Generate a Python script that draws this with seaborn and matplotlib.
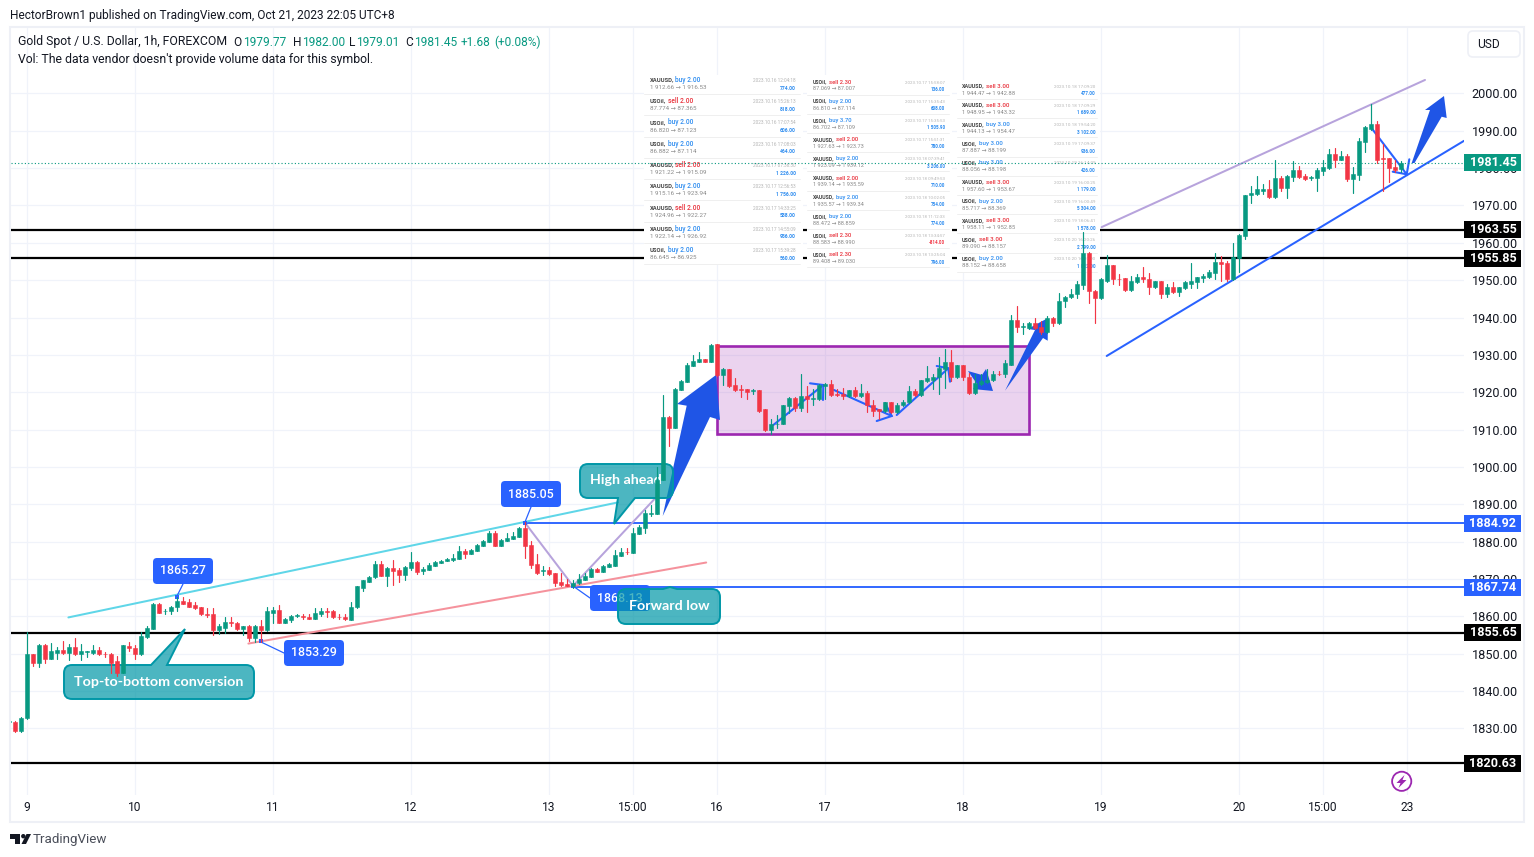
import numpy as np
import pandas as pd
import matplotlib
matplotlib.use("Agg")
import matplotlib.pyplot as plt
from matplotlib.patches import Rectangle, Polygon, PathPatch, Circle, FancyBboxPatch
from matplotlib.path import Path
from matplotlib.transforms import Affine2D, blended_transform_factory
import seaborn as sns

first_bar = -3
opens = [
1831.8,1831.8,1829.2,1832.7,1849.8,1847.6,1852.4,1848.7,1850.3,1851.1,
1850.3,1851.9,1849.8,1850.4,1850.3,1851.1,1850.0,1850.0,1847.9,1844.9,
1852.1,1851.6,1849.8,1854.4,1856.7,1863.4,1861.3,1861.3,1862.4,1864.0,
1863.7,1862.9,1862.4,1860.7,1860.7,1856.2,1857.0,1858.6,1858.3,1856.5,
1857.3,1854.3,1857.5,1856.2,1861.0,1861.8,1858.3,1859.1,1860.2,1860.2,
1859.9,1859.4,1860.7,1861.3,1861.5,1859.9,1859.7,1859.1,1862.4,1867.7,
1869.3,1870.4,1874.0,1870.8,1873.0,1872.4,1871.1,1873.0,1874.6,1872.2,
1872.4,1873.5,1874.3,1874.8,1875.1,1875.4,1877.5,1876.7,1877.5,1878.8,
1879.9,1882.4,1878.8,1880.2,1880.7,1881.3,1883.7,1879.1,1874.0,1872.2,
1872.4,1871.6,1869.2,1868.7,1868.1,1868.8,1869.7,1870.5,1872.7,1871.9,
1873.2,1873.5,1876.2,1877.2,1877.0,1882.1,1883.7,1887.4,1887.4,1896.5,
1913.4,1910.4,1920.6,1922.8,1927.0,1928.1,1928.9,1928.1,1932.8,1924.5,
1926.1,1921.8,1920.8,1920.8,1920.2,1920.5,1915.4,1910.0,1911.4,1911.6,
1916.2,1918.4,1915.7,1918.9,1918.3,1918.1,1921.6,1922.1,1919.4,1919.4,
1918.9,1920.5,1918.9,1919.7,1916.7,1915.4,1914.9,1917.3,1914.6,1916.5,
1917.3,1920.2,1919.2,1922.9,1923.4,1924.0,1926.1,1928.0,1924.0,1927.2,
1924.2,1919.7,1922.1,1922.6,1923.2,1925.0,1924.8,1927.4,1939.2,1937.4,
1937.1,1938.4,1937.4,1936.0,1940.0,1938.4,1944.3,1945.4,1946.2,1948.8,
1957.4,1947.2,1945.1,1949.7,1954.0,1950.4,1950.5,1947.3,1949.4,1950.8,
1950.2,1948.1,1949.7,1946.2,1948.1,1946.7,1947.8,1949.1,1949.4,1950.5,
1950.8,1951.8,1954.8,1954.5,1950.2,1955.8,1961.7,1972.7,1973.0,1974.0,
1974.3,1972.2,1977.3,1974.6,1977.5,1979.4,1977.8,1977.3,1977.3,1979.1,
1979.9,1983.7,1982.3,1983.2,1977.0,1978.1,1986.9,1990.6,1991.7,1982.6,
1982.6,1980.2,1979.77]
closes = [
1831.9,1829.2,1832.9,1849.8,1847.6,1852.4,1848.7,1850.6,1851.1,1850.3,
1851.9,1849.8,1850.6,1850.7,1851.1,1849.8,1849.9,1847.6,1844.9,1852.2,
1851.4,1849.8,1854.6,1857.0,1863.4,1861.0,1861.5,1862.6,1864.0,1863.4,
1862.6,1862.1,1860.5,1860.4,1856.2,1857.3,1858.6,1858.1,1856.5,1857.3,
1854.3,1857.5,1856.2,1861.3,1861.8,1858.3,1859.4,1860.2,1860.3,1859.7,
1859.4,1861.0,1861.5,1861.2,1859.7,1859.7,1859.4,1862.6,1868.0,1869.6,
1870.4,1874.0,1870.8,1873.0,1872.2,1871.1,1873.2,1874.6,1871.9,1872.7,
1873.8,1874.6,1874.8,1875.4,1875.6,1877.5,1876.7,1877.8,1879.1,1880.2,
1882.4,1878.8,1880.4,1881.0,1881.5,1883.7,1878.8,1873.8,1871.6,1872.4,
1871.3,1868.9,1868.4,1868.2,1868.9,1870.0,1870.8,1872.7,1871.9,1873.5,
1874.0,1876.4,1877.2,1877.1,1882.3,1883.9,1887.7,1887.7,1896.5,1913.4,
1910.4,1920.9,1923.0,1927.3,1928.4,1928.9,1928.1,1932.7,1924.5,1926.1,
1921.6,1920.5,1920.7,1920.0,1920.5,1915.1,1910.0,1911.6,1911.6,1916.5,
1918.4,1915.7,1918.9,1918.1,1918.4,1921.8,1922.1,1919.2,1919.2,1919.0,
1920.5,1918.9,1919.7,1916.5,1915.1,1914.9,1917.3,1914.6,1916.7,1917.5,
1920.2,1919.2,1923.2,1923.7,1924.2,1926.4,1928.0,1924.0,1927.2,1924.0,
1919.7,1922.4,1922.9,1923.4,1925.0,1924.9,1927.7,1939.2,1937.4,1937.6,
1938.4,1937.1,1936.0,1940.0,1938.4,1944.5,1945.6,1946.4,1949.1,1957.4,
1947.0,1945.1,1950.2,1954.0,1950.2,1950.3,1947.3,1949.7,1950.8,1950.2,
1948.1,1949.7,1946.2,1948.1,1946.7,1948.1,1949.4,1949.7,1950.8,1951.0,
1952.1,1954.8,1954.2,1950.2,1956.1,1962.0,1972.7,1973.2,1974.3,1974.3,
1972.2,1977.3,1974.6,1977.8,1979.4,1977.5,1977.0,1977.5,1979.4,1980.2,
1983.7,1982.3,1983.2,1977.0,1978.3,1987.2,1990.9,1991.7,1982.3,1982.4,
1979.9,1979.4,1981.45]
highs = [
1832.0,1832.0,1833.0,1855.7,1849.9,1852.5,1852.6,1852.8,1851.9,1853.5,
1852.6,1854.3,1852.6,1850.8,1852.4,1851.9,1850.4,1850.1,1849.5,1852.4,
1853.2,1852.2,1855.7,1857.5,1863.5,1863.5,1862.0,1862.7,1865.3,1865.1,
1864.5,1863.7,1862.5,1862.1,1862.1,1858.0,1859.7,1859.7,1858.4,1857.5,
1857.8,1857.6,1858.9,1862.4,1862.4,1862.9,1859.5,1860.3,1860.7,1860.5,
1860.5,1862.1,1862.1,1862.1,1861.6,1860.7,1860.5,1863.7,1868.2,1869.8,
1870.9,1874.7,1874.7,1873.1,1875.1,1872.9,1873.5,1877.2,1874.7,1873.3,
1874.2,1874.7,1875.1,1875.5,1876.7,1878.8,1878.0,1878.0,1879.4,1880.4,
1882.9,1882.8,1880.6,1882.2,1882.7,1884.0,1885.3,1880.1,1876.7,1873.5,
1873.3,1871.7,1871.5,1870.1,1869.6,1871.3,1871.5,1872.9,1873.0,1873.8,
1874.4,1877.8,1878.3,1878.3,1883.6,1884.5,1888.5,1889.8,1900.1,1919.3,
1913.5,1921.1,1923.3,1927.8,1930.0,1930.8,1929.0,1932.9,1932.9,1926.6,
1926.2,1923.7,1921.8,1920.9,1920.8,1920.6,1915.5,1912.7,1913.8,1916.7,
1918.6,1918.6,1924.8,1921.6,1920.8,1922.1,1922.4,1923.2,1920.8,1921.0,
1920.6,1921.3,1922.1,1920.2,1917.8,1915.5,1917.5,1917.4,1917.0,1917.8,
1921.6,1920.8,1923.4,1926.9,1924.8,1929.3,1931.7,1931.2,1927.4,1927.3,
1925.2,1924.8,1925.0,1926.1,1925.8,1925.8,1928.5,1940.6,1943.0,1938.4,
1938.7,1940.0,1939.0,1940.3,1940.1,1946.5,1945.7,1947.5,1949.9,1962.8,
1957.5,1947.3,1950.7,1956.6,1954.1,1951.6,1950.6,1951.0,1951.6,1953.4,
1951.8,1949.9,1949.8,1948.9,1949.4,1948.2,1949.7,1954.5,1950.9,1951.6,
1952.6,1957.2,1956.4,1955.0,1959.9,1962.3,1972.8,1975.1,1977.8,1975.7,
1976.7,1982.3,1977.8,1978.1,1981.8,1980.5,1978.3,1977.8,1979.9,1982.1,
1985.0,1985.3,1984.5,1983.7,1980.2,1988.0,1991.2,1997.1,1992.5,1986.5,
1982.7,1982.1,1982.0]
lows = [
1831.6,1829.1,1829.0,1832.6,1846.6,1846.4,1847.4,1848.6,1848.7,1849.8,
1848.2,1849.7,1848.2,1849.1,1849.8,1849.7,1849.1,1844.9,1844.1,1844.8,
1850.8,1848.7,1849.7,1854.3,1856.6,1860.9,1860.7,1860.5,1861.3,1863.2,
1862.4,1862.0,1860.4,1859.9,1855.1,1855.3,1855.4,1857.5,1856.4,1854.9,
1853.5,1853.1,1853.1,1856.1,1858.3,1858.2,1858.1,1858.4,1859.8,1859.4,
1859.3,1859.3,1860.2,1859.7,1859.6,1859.4,1858.9,1859.0,1862.3,1866.9,
1869.2,1870.3,1870.7,1868.0,1868.4,1869.3,1869.7,1872.4,1871.3,1871.3,
1872.3,1873.4,1874.2,1874.7,1874.9,1875.3,1875.6,1876.6,1877.4,1878.7,
1879.8,1878.7,1878.7,1880.1,1880.6,1881.2,1875.5,1873.0,1871.3,1871.1,
1871.1,1868.1,1868.1,1868.1,1867.5,1868.7,1869.6,1870.4,1871.8,1871.8,
1873.1,1873.4,1876.1,1876.7,1876.9,1882.0,1882.4,1886.9,1887.3,1896.4,
1905.6,1910.3,1920.5,1922.7,1926.9,1928.0,1928.0,1928.0,1924.4,1921.8,
1921.5,1920.4,1918.6,1918.3,1919.4,1914.6,1909.5,1908.7,1910.3,1911.5,
1914.5,1915.1,1915.1,1914.6,1916.5,1918.0,1918.1,1918.9,1918.9,1918.1,
1918.8,1918.8,1918.8,1914.6,1913.5,1912.7,1914.8,1914.5,1914.5,1916.4,
1917.2,1919.1,1919.1,1922.8,1920.8,1919.4,1921.0,1923.0,1923.9,1923.4,
1919.6,1919.4,1922.0,1922.5,1923.1,1924.5,1924.0,1927.3,1936.0,1935.5,
1937.0,1937.0,1935.5,1935.9,1937.6,1938.3,1942.9,1945.3,1945.1,1947.5,
1944.0,1938.4,1945.0,1949.6,1948.9,1948.6,1947.2,1947.2,1949.3,1949.4,
1946.2,1948.0,1945.1,1945.4,1946.6,1945.7,1947.7,1948.0,1947.8,1949.4,
1950.7,1950.2,1949.9,1949.7,1950.1,1952.1,1960.9,1970.6,1972.9,1973.0,
1972.1,1972.1,1974.0,1971.9,1976.5,1977.4,1976.7,1976.7,1974.0,1978.1,
1979.8,1980.2,1982.2,1976.5,1973.2,1976.7,1984.2,1990.1,1981.3,1974.0,
1976.2,1978.9,1979.01]

tick_bars = [0, 18, 41, 64, 87, 101, 115, 133, 156, 179, 202, 216, 230]
tick_labels = ['9', '10', '11', '12', '13', '15:00', '16', '17', '18', '19', '20', '15:00', '23']
price_ticks = list(range(1830, 2001, 10))

black_levels = [1963.55, 1955.85, 1855.65, 1820.63]
blue_levels = [1884.92, 1867.74]
blue_starts = [83, 91]
last_price = 1981.45

cyan_x, cyan_y = [6.9, 98.5], [1859.7, 1890.5]
pink_x, pink_y = [36.9, 113.2], [1852.7, 1874.4]
zig_x, zig_y = [83, 91, 104.7], [1885.05, 1868.13, 1891.6]
chan_top_x, chan_top_y = [179.1, 233], [1964.2, 2003.6]
chan_bot_x, chan_bot_y = [179.95, 239.5], [1929.7, 1987.3]
range_x, range_y = [114.95, 167.0], [1908.7, 1932.3]
pivot_x, pivot_y = [25, 39, 83, 91], [1865.27, 1853.29, 1885.05, 1868.13]

rows_one = [
 ('XAUUSD,', 'buy 2.00', '1 912.66 → 1 916.53', '2023.10.16 12:04:18', '774.00'),
 ('USOil,', 'sell 2.00', '87.774 → 87.365', '2023.10.16 15:26:13', '818.00'),
 ('USOil,', 'buy 2.00', '86.820 → 87.123', '2023.10.16 17:07:54', '606.00'),
 ('USOil,', 'buy 2.00', '86.882 → 87.114', '2023.10.16 17:08:03', '464.00'),
 ('XAUUSD,', 'sell 2.00', '1 921.22 → 1 915.09', '2023.10.17 07:36:30', '1 226.00'),
 ('XAUUSD,', 'buy 2.00', '1 915.16 → 1 923.94', '2023.10.17 12:56:53', '1 756.00'),
 ('XAUUSD,', 'sell 2.00', '1 924.96 → 1 922.27', '2023.10.17 14:33:25', '538.00'),
 ('XAUUSD,', 'buy 2.00', '1 922.14 → 1 926.92', '2023.10.17 14:55:09', '956.00'),
 ('USOil,', 'buy 2.00', '86.645 → 86.925', '2023.10.17 15:39:28', '560.00')]
rows_two = [
 ('USOil,', 'sell 2.30', '87.069 → 87.007', '2023.10.17 15:58:07', '136.00'),
 ('USOil,', 'buy 2.00', '86.810 → 87.114', '2023.10.17 15:35:43', '608.00'),
 ('USOil,', 'buy 3.70', '86.702 → 87.109', '2023.10.17 15:35:53', '1 505.90'),
 ('XAUUSD,', 'sell 2.00', '1 927.63 → 1 923.73', '2023.10.17 15:51:31', '780.00'),
 ('XAUUSD,', 'buy 2.00', '1 923.09 → 1 939.12', '2023.10.18 07:39:41', '3 206.00'),
 ('XAUUSD,', 'sell 2.00', '1 939.14 → 1 935.59', '2023.10.18 09:49:53', '710.00'),
 ('XAUUSD,', 'buy 2.00', '1 935.57 → 1 939.34', '2023.10.18 10:02:05', '754.00'),
 ('USOil,', 'buy 2.00', '88.472 → 88.859', '2023.10.18 11:12:33', '774.00'),
 ('USOil,', 'sell 2.30', '88.583 → 88.990', '2023.10.18 13:34:57', '-814.00'),
 ('USOil,', 'sell 2.30', '89.408 → 89.030', '2023.10.18 13:25:04', '796.00')]
rows_three = [
 ('XAUUSD,', 'sell 3.00', '1 944.47 → 1 942.88', '2023.10.18 17:09:20', '477.00'),
 ('XAUUSD,', 'sell 3.00', '1 948.95 → 1 943.32', '2023.10.18 17:09:29', '1 689.00'),
 ('XAUUSD,', 'buy 3.00', '1 944.13 → 1 954.47', '2023.10.18 19:54:20', '3 102.00'),
 ('USOil,', 'buy 3.00', '87.887 → 88.199', '2023.10.19 17:09:37', '936.00'),
 ('USOil,', 'buy 3.00', '88.056 → 88.198', '2023.10.19 16:14:09', '426.00'),
 ('XAUUSD,', 'sell 3.00', '1 957.60 → 1 953.67', '2023.10.19 16:00:25', '1 179.00'),
 ('USOil,', 'buy 2.00', '85.717 → 88.369', '2023.10.19 16:00:49', '5 304.00'),
 ('XAUUSD,', 'sell 3.00', '1 958.11 → 1 952.85', '2023.10.19 18:06:41', '1 578.00'),
 ('USOil,', 'sell 3.00', '89.090 → 88.157', '2023.10.20 16:20:26', '2 799.00'),
 ('USOil,', 'buy 2.00', '88.152 → 88.658', '2023.10.20 16:30:00', '1 012.00')]

GREEN, RED, BLUE = '#089981', '#F23645', '#2962FF'
ARROW = '#1F55E6'
INK = '#131722'
TEAL_EDGE = '#0097A7'
Y_ANCHOR = 93.4

sns.set_theme(style='white', rc={'axes.grid': False})
plt.rcParams['font.family'] = ['Roboto', 'DejaVu Sans']

W, H = 1534, 857
fig = plt.figure(figsize=(W / 100, H / 100), dpi=100, facecolor='white')
L, R, T, B = 11, 1464, 28, 795
ax = fig.add_axes([L / W, 1 - B / H, (R - L) / W, (B - T) / H])
ax.set_facecolor('white')
px = Affine2D().scale(1, -1).translate(0, H)


def fs(p):
    return p * 0.72


bars = np.arange(first_bar, first_bar + len(opens))
frame = pd.DataFrame({'bar': bars, 'open': opens, 'close': closes, 'high': highs, 'low': lows})
frame['dir'] = np.where(frame['close'] >= frame['open'], 'up', 'down')

wicks = pd.concat([
    frame[['bar', 'high', 'dir']].rename(columns={'high': 'price'}),
    frame[['bar', 'low', 'dir']].rename(columns={'low': 'price'})])
wicks['id'] = wicks['bar']
sns.lineplot(data=wicks, x='bar', y='price', units='id', estimator=None, hue='dir', sort=False,
             palette={'up': GREEN, 'down': RED}, lw=0.85, legend=False, ax=ax, zorder=3)
cols = frame['dir'].map({'up': GREEN, 'down': RED})
ax.bar(frame['bar'], frame['close'] - frame['open'], bottom=frame['open'], width=0.78,
       color=cols, edgecolor=cols, linewidth=0.4, zorder=3.1)

ax.set_xlim((L - 27) / 6, (R - 27) / 6)
ax.set_ylim(2000 - (B - Y_ANCHOR) / 3.735, 2000 - (T - Y_ANCHOR) / 3.735)
ax.set_xlabel('')
ax.set_ylabel('')
ax.set_axisbelow(True)
ax.set_xticks(tick_bars, tick_labels)
ax.set_yticks(price_ticks, [f'{v:.2f}' for v in price_ticks])
ax.yaxis.tick_right()
ax.grid(True, color='#F0F3FA', lw=0.9)
ax.tick_params(axis='x', length=0, pad=4.6, labelsize=fs(12), labelcolor=INK)
ax.tick_params(axis='y', length=0, pad=5.6, labelsize=fs(12.6), labelcolor=INK)
for s in ax.spines.values():
    s.set_visible(False)

right = ax.get_xlim()[1]
left = ax.get_xlim()[0]
ax.hlines(black_levels, left, right, color='black', lw=1.6, zorder=0.9)
ax.hlines(blue_levels, blue_starts, right, color=BLUE, lw=1.35, zorder=2.2)
ax.hlines(last_price, left, right, color=GREEN, lw=0.8, linestyles=(0, (1, 2)), zorder=2.6)

ax.add_patch(Rectangle((range_x[0], range_y[0]), range_x[1] - range_x[0], range_y[1] - range_y[0],
                       facecolor=(0.612, 0.153, 0.690, 0.2), edgecolor='#9C27B0', lw=1.9, zorder=1.6))


def line(xs, ys, color, lw=1.45, z=2.3):
    sns.lineplot(x=xs, y=ys, color=color, lw=lw, estimator=None, sort=False, legend=False, ax=ax, zorder=z)


line(cyan_x, cyan_y, '#5FD6E8')
line(pink_x, pink_y, '#F5929C')
line(zig_x, zig_y, '#B7A3DC')
line(chan_top_x, chan_top_y, '#B7A3DC')
line(chan_bot_x, chan_bot_y, BLUE)
ax.set_xlabel('')
ax.set_ylabel('')


def draw_path(xs, ys, color=BLUE, lw=1.5, z=2.4):
    ax.plot(xs, ys, color=color, lw=lw, transform=px, zorder=z, clip_on=False,
            solid_joinstyle='miter')


def poly(pts, color=ARROW, z=2.5):
    ax.add_patch(Polygon(pts, closed=True, facecolor=color, edgecolor='none', transform=px, zorder=z, clip_on=False))


# hand-drawn arrows
poly([(662.7, 516), (686.7, 405.7), (677, 404), (716, 375), (720, 420), (710, 417)])
poly([(1005, 390.7), (1035, 330), (1027.7, 329), (1048, 318), (1047.7, 340.7), (1043, 338)])
poly([(968, 371), (982, 375), (986, 369), (993, 391), (973, 389), (977, 384)])
poly([(1411.7, 163), (1430, 110), (1425, 110), (1444, 96), (1446.7, 118), (1441.7, 116.7), (1414.5, 163)])
draw_path([773.3, 823.3], [425, 385]); draw_path([810, 823.3, 823], [383.3, 385, 400])
draw_path([834, 891.7], [390, 416]); draw_path([885, 891.7, 876.7], [403, 416, 421])
draw_path([896.7, 948.3], [415, 368.3]); draw_path([936.7, 948.3, 950], [366, 368.3, 381.7])
draw_path([1371.7, 1406.7], [128.3, 174.3]); draw_path([1392.7, 1406.7, 1409.3], [171.7, 174.3, 159.3])


# account-history panels
def panel(rows, x0, x1, y0, y1, first_y, step, scale, text_x, value_x):
    ax.add_patch(Rectangle((x0, y0), x1 - x0, y1 - y0, facecolor='white', edgecolor='none', transform=px,
                           zorder=1.0, clip_on=False))
    for k, (sym, side, prices, stamp, value) in enumerate(rows):
        y = first_y + k * step
        is_x = sym.startswith('X')
        ax.text(text_x, y, sym, transform=px, fontsize=fs(5.9 * scale), fontweight='bold', color='#444444',
                va='center', ha='left', zorder=1.2)
        off = (25.6 if is_x else 18.6) * scale
        col = '#2D8CF0' if side.startswith('buy') else '#E8303A'
        ax.text(text_x + off, y, side, transform=px, fontsize=fs(6.6 * scale), color=col, fontweight='medium',
                va='center', ha='left', zorder=1.2)
        ax.text(text_x, y + 7.6 * scale, prices, transform=px, fontsize=fs(6.3 * scale), color='#8A8A8A',
                va='center', ha='left', zorder=1.2)
        ax.text(value_x, y + 0.5, stamp, transform=px, fontsize=fs(4.8 * scale), color='#B5B5B5',
                va='center', ha='right', zorder=1.2)
        vcol = RED if value.startswith('-') else '#2D8CF0'
        ax.text(value_x, y + 8.2 * scale, value, transform=px, fontsize=fs(5.0 * scale), color=vcol,
                fontweight='bold', va='center', ha='right', zorder=1.2)
        ax.plot([x0, x1 - 3], [y + 14 * scale] * 2, color='#EFEFEF', lw=0.7, transform=px, zorder=1.1,
                clip_on=False)


panel(rows_one, 644, 803, 75, 265, 80, 21.25, 1.0, 649.5, 796)
panel(rows_two, 807, 952, 75, 268, 82, 19.2, 0.9, 812.7, 945)
panel(rows_three, 957, 1100, 80, 273, 86, 19.2, 0.93, 962, 1095.6)


# callouts
def callout(x0, y0, x1, y1, r, base_a, base_b, tip, top, label, tx, ty, z):
    V = [(x0 + r, y0)]
    C = [Path.MOVETO]
    if top:
        V += [(base_a, y0), tip, (base_b, y0)]
        C += [Path.LINETO] * 3
    V += [(x1 - r, y0), (x1, y0), (x1, y0 + r), (x1, y1 - r), (x1, y1), (x1 - r, y1)]
    C += [Path.LINETO, Path.CURVE3, Path.CURVE3, Path.LINETO, Path.CURVE3, Path.CURVE3]
    if not top:
        V += [(base_b, y1), tip, (base_a, y1)]
        C += [Path.LINETO] * 3
    V += [(x0 + r, y1), (x0, y1), (x0, y1 - r), (x0, y0 + r), (x0, y0), (x0 + r, y0), (x0 + r, y0)]
    C += [Path.LINETO, Path.CURVE3, Path.CURVE3, Path.LINETO, Path.CURVE3, Path.CURVE3, Path.CLOSEPOLY]
    ax.add_patch(PathPatch(Path(V, C), facecolor=(0.0, 0.592, 0.655, 0.7), edgecolor=TEAL_EDGE, lw=1.4,
                           transform=px, zorder=z, clip_on=False))
    ax.text(tx, ty, label, transform=px, color='white', fontsize=fs(14.2), fontweight='bold', family='Lato',
            va='center', ha='center', zorder=z + 0.01)


# price-scale and pivot labels
def price_tag(price, color):
    tr = blended_transform_factory(px, ax.transData)
    ypix = Y_ANCHOR + (2000 - price) * 3.735
    ax.add_patch(Rectangle((1464, ypix - 8.5), 57, 17, facecolor=color, edgecolor='none', transform=px,
                           zorder=4, clip_on=False))
    ax.text(1493, price, f'{price:.2f}', transform=tr, color='white', fontsize=fs(12.6), fontweight='bold',
            ha='center', va='center', zorder=4.1, clip_on=False)


for v in black_levels:
    price_tag(v, 'black')
for v in blue_levels:
    price_tag(v, BLUE)
price_tag(last_price, GREEN)


def pivot_tag(label, x0, y0, link):
    ax.add_patch(FancyBboxPatch((x0 + 3, y0 + 3), 54, 20, boxstyle='round,pad=3,rounding_size=4',
                                facecolor=BLUE, edgecolor='none', transform=px, zorder=2.7, clip_on=False))
    ax.text(x0 + 30, y0 + 13, label, transform=px, color='white', fontsize=fs(12.4), fontweight='medium',
            ha='center', va='center', zorder=2.71)
    draw_path(link[0], link[1], lw=0.9, z=2.65)


pivot_tag('1865.27', 153, 558, ([177, 183], [596, 584]))
pivot_tag('1853.29', 284, 640, ([261, 284], [642, 653]))
pivot_tag('1885.05', 501, 481, ([525, 531], [522, 507]))
pivot_tag('1868.13', 590, 585, ([573, 590], [586, 598]))
sns.scatterplot(x=pivot_x, y=pivot_y, color=BLUE, marker='s', s=12, linewidth=0, legend=False, ax=ax, zorder=2.8)
ax.set_xlabel('')
ax.set_ylabel('')

callout(64, 665, 254, 699, 8, 151, 167, (185, 629), True, 'Top-to-bottom conversion', 158.5, 681.5, 2.75)
callout(580, 464, 673, 498, 8, 618, 635, (614, 524), False, 'High ahead', 626, 480.5, 2.75)
callout(618, 589, 720, 624, 8, 663, 677, (670, 587), True, 'Forward low', 669, 606.5, 2.9)

# chart furniture
ax.add_patch(Rectangle((10, 27), 1514, 795, fill=False, edgecolor='#EEF0F6', lw=1.5, transform=px, zorder=0.2,
                       clip_on=False))
ax.add_patch(FancyBboxPatch((1472, 35), 44, 18, boxstyle='round,pad=4,rounding_size=5', facecolor='white',
                            edgecolor='#EEF0F6', lw=1.2, transform=px, zorder=4, clip_on=False))
ax.text(1488, 44, 'USD', transform=px, color=INK, fontsize=fs(12), ha='center', va='center', zorder=4.1)

ax.text(10, 15, 'HectorBrown1 published on TradingView.com, Oct 21, 2023 22:05 UTC+8', transform=px, color=INK,
        fontsize=fs(11.95), va='center', ha='left', zorder=5, clip_on=False)
ax.text(18, 42, 'Gold Spot / U.S. Dollar, 1h, FOREXCOM', transform=px, color=INK, fontsize=fs(12.2),
        va='center', ha='left', zorder=5)
for x, t, c in [(233, 'O', INK), (243, '1979.77', GREEN), (293, 'H', INK), (302, '1982.00', GREEN),
                (349, 'L', INK), (356, '1979.01', GREEN), (405, 'C', INK), (414, '1981.45', GREEN),
                (461, '+1.68', GREEN), (494, '(+0.08%)', GREEN)]:
    ax.text(x, 42, t, transform=px, color=c, fontsize=fs(11.9), va='center', ha='left', zorder=5)
ax.text(18, 59, "Vol: The data vendor doesn't provide volume data for this symbol.", transform=px, color=INK,
        fontsize=fs(12.2), va='center', ha='left', zorder=5)

ax.add_patch(Circle((1401.7, 781.3), 9.6, facecolor='white', edgecolor='#9C27B0', lw=1.3, transform=px, zorder=5,
                    clip_on=False))
poly([(1404.5, 775), (1396.5, 783), (1400.5, 783), (1398.5, 788), (1406.5, 780), (1402.5, 780)], '#9C27B0', 5.1)

poly([(10, 834), (20, 834), (20, 844), (15, 844), (15, 838.5), (10, 838.5)], INK, 5)
ax.add_patch(Circle((23.3, 836.2), 2.2, facecolor=INK, edgecolor='none', transform=px, zorder=5, clip_on=False))
poly([(26.5, 834), (31, 834), (26, 844), (21.5, 844)], INK, 5)
ax.text(33, 839.5, 'TradingView', transform=px, color='#4A4E59', fontsize=fs(13.4), va='center', ha='left',
        zorder=5, clip_on=False)

fig.savefig('out.png', dpi=100, facecolor='white')
